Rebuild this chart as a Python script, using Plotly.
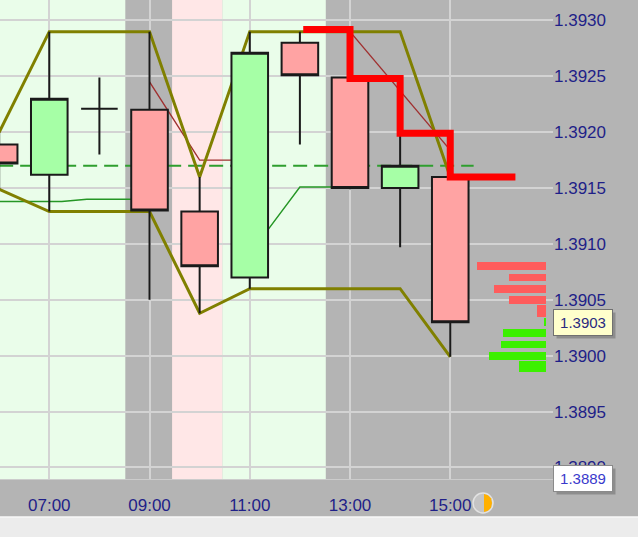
import plotly.graph_objects as go

DAY = "2024-03-05 "

# ---- candle data (hourly) ----
hours  = ["06:00", "07:00", "08:00", "09:00", "10:00", "11:00", "12:00", "13:00", "14:00", "15:00"]
opens  = [1.39189, 1.39162, 1.39221, 1.39220, 1.39129, 1.39070, 1.39280, 1.39249, 1.39150, 1.39160]
highs  = [1.39200, 1.39290, 1.39249, 1.39290, 1.39160, 1.39290, 1.39290, 1.39255, 1.39199, 1.39160]
lows   = [1.39149, 1.39129, 1.39180, 1.39050, 1.39038, 1.39060, 1.39189, 1.39149, 1.39097, 1.38999]
closes = [1.39172, 1.39230, 1.39221, 1.39130, 1.39080, 1.39271, 1.39251, 1.39150, 1.39170, 1.39030]

# ---- channel (olive) ----
channel_upper = [1.39200, 1.39290, 1.39290, 1.39290, 1.39160, 1.39290, 1.39290, 1.39290, 1.39290, 1.39160]
channel_lower = [1.39149, 1.39129, 1.39129, 1.39129, 1.39038, 1.39060, 1.39060, 1.39060, 1.39060, 1.38999]

# ---- thin dark-red line ----
red_times  = ["09:00", "10:00", "11:00", "12:00", "13:00", "14:00", "15:00"]
red_values = [1.39245, 1.39175, 1.39175, None, 1.39290, 1.39237, 1.39184]

# ---- thin green line ----
green_times  = ["06:00", "07:15", "07:45", "09:00", "10:00", "11:00", "12:00", "13:00"]
green_values = [1.39138, 1.39138, 1.39140, 1.39140, None, 1.39091, 1.39151, 1.39151]

# ---- dashed green level ----
level_times  = ["06:00", "15:28"]
level_values = [1.39170, 1.39170]

# ---- thick red step line ----
step_times  = ["12:04", "13:00", "14:00", "15:00", "16:18"]
step_values = [1.39292, 1.39248, 1.39199, 1.39160, 1.39160]

# ---- volume profile ----
ask_levels = [1.3908, 1.3907, 1.3906, 1.3905, 1.3904]
ask_volume = [46, 25, 35, 25, 6]
bid_levels = [1.3903, 1.3902, 1.3901, 1.3900, 1.3899]
bid_volume = [1.3, 29, 30, 38, 18]

# ---- session bands ----
green_bands = [("05:00", "08:31"), ("10:27", "12:31")]
pink_bands = [("09:27", "10:27")]

# ---- axis ticks ----
time_ticks = ["07:00", "09:00", "11:00", "13:00", "15:00"]
price_ticks = [1.3890, 1.3895, 1.3900, 1.3905, 1.3910, 1.3915, 1.3920, 1.3925, 1.3930]
last_price = 1.3903
low_marker = 1.3889

def t(s):
    return DAY + s

BG = "#b4b4b4"
GRID = "#d3d3d3"
NAVY = "#1f1f88"
FONT = "Liberation Sans, Arial, sans-serif"
XRANGE = [t("06:01"), t("17:03")]

fig = go.Figure()

# indicator lines (base layer, under the candles)
fig.add_trace(go.Scatter(x=[t(s) for s in level_times], y=level_values, mode="lines",
                         line=dict(color="#2e9e2e", width=1.8, dash="14px,7px"), hoverinfo="skip"))
fig.add_trace(go.Scatter(x=[t(s) for s in green_times], y=green_values, mode="lines",
                         line=dict(color="#249624", width=1.4), hoverinfo="skip"))
fig.add_trace(go.Scatter(x=[t(s) for s in red_times], y=red_values, mode="lines",
                         line=dict(color="#a03030", width=1.4), hoverinfo="skip"))
fig.add_trace(go.Scatter(x=[t(s) for s in hours], y=channel_upper, mode="lines",
                         line=dict(color="#808000", width=3), hoverinfo="skip"))
fig.add_trace(go.Scatter(x=[t(s) for s in hours], y=channel_lower, mode="lines",
                         line=dict(color="#808000", width=3), hoverinfo="skip"))

# volume profile (overlay x2)
fig.add_trace(go.Bar(y=ask_levels, x=ask_volume, orientation="h", xaxis="x2",
                     width=[0.00007, 0.00007, 0.00007, 0.00007, 0.0001],
                     marker=dict(color="#ff5c5c", line=dict(width=0)), hoverinfo="skip"))
fig.add_trace(go.Bar(y=bid_levels, x=bid_volume, orientation="h", xaxis="x2",
                     width=[0.00007, 0.00007, 0.00007, 0.00007, 0.0001],
                     marker=dict(color="#3cf000", line=dict(width=0)), hoverinfo="skip"))

# candles + red step (overlay x3, drawn above the indicator lines)
fig.add_trace(go.Candlestick(
    x=[t(s) for s in hours], open=opens, high=highs, low=lows, close=closes, xaxis="x3",
    increasing=dict(fillcolor="#a6ffa6", line=dict(color="#1a1a1a", width=2)),
    decreasing=dict(fillcolor="#ffa3a3", line=dict(color="#1a1a1a", width=2)),
    whiskerwidth=0, hoverinfo="skip"))
fig.add_trace(go.Scatter(x=[t(s) for s in step_times], y=step_values, mode="lines", xaxis="x3",
                         line=dict(color="#ff0000", width=7, shape="hv"), hoverinfo="skip"))

shapes = []
for a, b in green_bands:
    shapes.append(dict(type="rect", xref="x", yref="paper", x0=t(a), x1=t(b), y0=0, y1=1,
                       fillcolor="#eafdea", line=dict(width=0), layer="below"))
for a, b in pink_bands:
    shapes.append(dict(type="rect", xref="x", yref="paper", x0=t(a), x1=t(b), y0=0, y1=1,
                       fillcolor="#ffe7e7", line=dict(width=0), layer="below"))

# bottom light strip
PW, PH = 553.0, 479.0
shapes.append(dict(type="rect", xref="paper", yref="paper", x0=-0.01, x1=638 / PW + 0.01,
                   y0=(PH - 540) / PH, y1=(PH - 517) / PH,
                   fillcolor="#ececec", line=dict(width=0), layer="above"))
shapes.append(dict(type="line", xref="paper", yref="paper", x0=-0.01, x1=638 / PW + 0.01,
                   y0=(PH - 517) / PH, y1=(PH - 517) / PH, line=dict(color="#f8f8f8", width=1.5)))

# small orange status icon
ix, iy = 483 / PW, (PH - 503) / PH
shapes.append(dict(type="circle", xref="paper", yref="paper", xsizemode="pixel", ysizemode="pixel",
                   xanchor=ix, yanchor=iy, x0=-10, x1=10, y0=-10, y1=10,
                   fillcolor="#c4c4c4", line=dict(color="#e2e2e2", width=1.5)))
shapes.append(dict(type="path", xref="paper", yref="paper", xsizemode="pixel", ysizemode="pixel",
                   xanchor=ix, yanchor=iy,
                   path="M 1,-9 L 5,-7.8 L 8,-4.8 L 9,0 L 8,4.8 L 5,7.8 L 1,9 Z",
                   fillcolor="#ffb000", line=dict(width=0)))

annotations = []
for price, bgc, txtc, bord in [(last_price, "#ffffcc", "#2a2a80", "#707070"),
                               (low_marker, "#ffffff", "#3a3acc", "#8a8a8a")]:
    annotations.append(dict(x=1, xref="paper", y=price, yref="y", xanchor="left", yanchor="middle",
                            text=f"{price:.4f}", showarrow=False, xshift=3, yshift=-3,
                            font=dict(family=FONT, size=15, color="rgba(0,0,0,0)"),
                            bgcolor="rgba(70,70,70,0.35)", borderpad=4, width=50, borderwidth=1,
                            bordercolor="rgba(0,0,0,0)"))
    annotations.append(dict(x=1, xref="paper", y=price, yref="y", xanchor="left", yanchor="middle",
                            text=f"{price:.4f}", showarrow=False,
                            font=dict(family=FONT, size=15, color=txtc),
                            bgcolor=bgc, borderpad=4, width=50, borderwidth=1, bordercolor=bord))

fig.update_layout(
    width=638, height=537,
    margin=dict(l=0, r=85, t=0, b=58),
    paper_bgcolor=BG, plot_bgcolor=BG,
    showlegend=False,
    bargap=0, barmode="overlay",
    boxgap=0.27, boxgroupgap=0,
    shapes=shapes, annotations=annotations,
    xaxis=dict(type="date", range=XRANGE,
               tickvals=[t(s) for s in time_ticks], ticktext=time_ticks,
               showgrid=True, gridcolor=GRID, gridwidth=2,
               ticks="outside", ticklen=11, tickcolor="rgba(0,0,0,0)",
               tickfont=dict(family=FONT, size=17, color=NAVY),
               showline=True, linecolor="#cccccc", linewidth=1,
               rangeslider=dict(visible=False), zeroline=False, fixedrange=True),
    xaxis2=dict(overlaying="x", range=[546 / 1.5, -7 / 1.5], visible=False, fixedrange=True),
    xaxis3=dict(overlaying="x", type="date", range=XRANGE, visible=False, showgrid=False,
                rangeslider=dict(visible=False), fixedrange=True),
    yaxis=dict(side="right", range=[1.388897, 1.393183],
               tickvals=price_ticks, ticktext=[f"{p:.4f}" for p in price_ticks],
               showgrid=True, gridcolor=GRID, gridwidth=2, zeroline=False,
               ticks="", tickfont=dict(family=FONT, size=17, color=NAVY), fixedrange=True),
)

fig.write_html("out.html", config={"displayModeBar": False},
               post_script="document.body.style.margin='0';document.body.style.overflow='hidden';")
